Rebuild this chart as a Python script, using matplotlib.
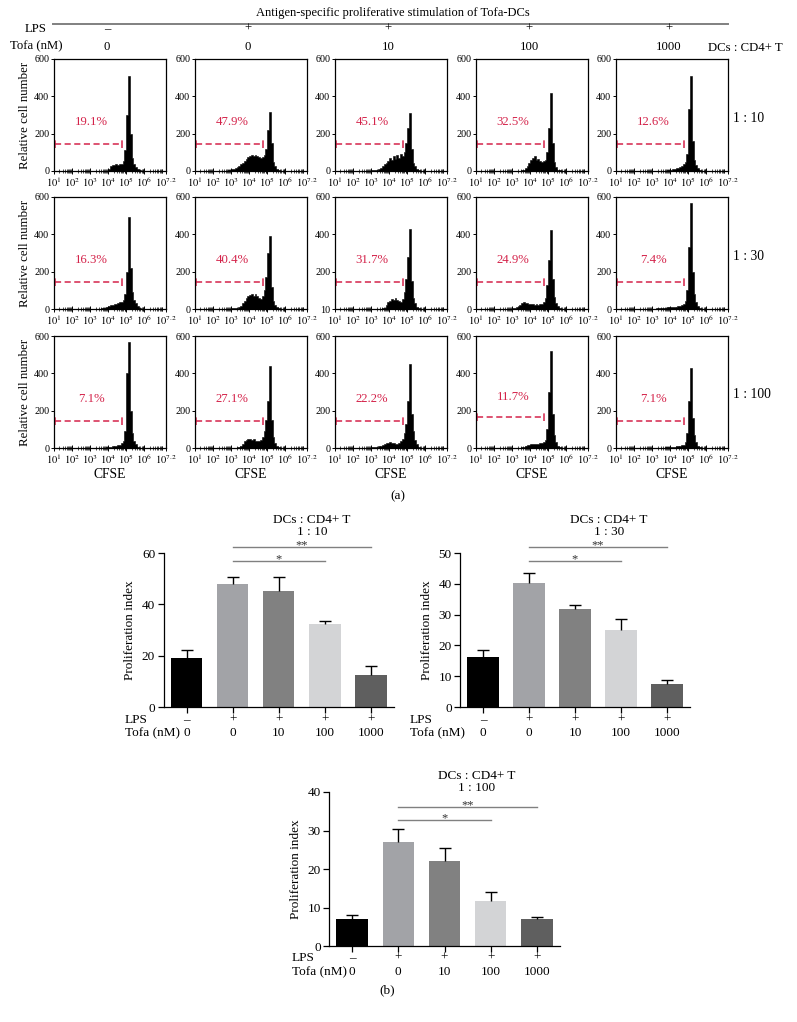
import numpy as np
import matplotlib
matplotlib.use('Agg')
import matplotlib.pyplot as plt
from matplotlib.ticker import FixedLocator, NullFormatter
from matplotlib.lines import Line2D
import matplotlib.transforms as mtrans

plt.rcParams['font.family'] = ['Liberation Serif', 'DejaVu Serif']
plt.rcParams['mathtext.fontset'] = 'stix'
plt.rcParams['axes.linewidth'] = 0.9

# ---------------- data ----------------
lps_labels = ['–', '+', '+', '+', '+']
tofa_labels = ['0', '0', '10', '100', '1000']
ratio_labels = ['1 : 10', '1 : 30', '1 : 100']

pct_1_10 = [19.1, 47.9, 45.1, 32.5, 12.6]
pct_1_30 = [16.3, 40.4, 31.7, 24.9, 7.4]
pct_1_100 = [7.1, 27.1, 22.2, 11.7, 7.1]

err_1_10 = [3.0, 2.6, 5.5, 1.0, 3.5]
err_1_30 = [2.3, 3.2, 1.5, 3.7, 1.5]
err_1_100 = [1.0, 3.3, 3.3, 2.2, 0.5]

gate_1_10 = [143, 143, 143, 143, 143]
gate_1_30 = [143, 143, 143, 143, 143]
gate_1_100 = [143, 143, 143, 165, 143]

# log10(CFSE) bin edges of the histograms, 0.1-decade bins from 10^2.5 to 10^6
hist_log_edges = np.linspace(2.5, 6.0, 36)

hist_1_10 = [
    [0,0,0,0,0, 0,0,0,0,0, 0,0,0,0,0, 10,28,32,33,35, 34,38,40,55,110, 300,510,200,70,35, 20,10,4,0,0],
    [0,0,0,5,8, 10,12,15,20,25, 35,45,55,65,75, 80,85,80,85,80, 75,70,75,85,120, 220,315,150,50,25, 12,6,2,0,0],
    [0,0,0,0,0, 3,5,6,8,10, 15,25,35,45,55, 70,60,80,65,85, 70,90,80,100,150, 230,310,120,45,25, 10,4,0,0,0],
    [0,0,0,0,0, 0,0,0,0,0, 3,8,15,25,45, 60,70,82,60,65, 55,50,55,60,100, 230,420,150,50,20, 8,3,0,0,0],
    [0,0,0,0,0, 0,0,0,0,0, 0,0,0,3,5, 8,10,12,15,18, 22,28,35,50,90, 330,510,160,60,30, 15,6,2,0,0],
]
hist_1_30 = [
    [0,0,0,0,0, 0,0,0,0,0, 0,3,5,8,10, 15,20,22,25,28, 30,35,40,50,80, 200,494,220,90,50, 30,15,6,2,0],
    [0,0,0,0,0, 3,5,6,8,12, 18,30,45,60,70, 75,80,72,78,70, 60,55,70,100,170, 300,390,120,45,20, 10,5,0,0,0],
    [0,0,0,0,0, 0,0,0,0,0, 0,3,8,20,35, 45,55,50,58,50, 45,40,55,90,160, 280,430,150,60,30, 12,4,0,0,0],
    [0,0,0,0,0, 5,8,12,15,22, 30,35,33,30,28, 25,25,24,25,24, 25,28,35,60,130, 260,425,160,65,30, 15,5,0,0,0],
    [0,0,0,0,0, 0,0,3,5,6, 8,8,8,9,10, 10,10,12,12,14, 16,20,28,45,100, 330,570,200,80,35, 15,6,2,0,0],
]
hist_1_100 = [
    [0,0,0,0,0, 0,0,0,0,0, 0,0,0,0,3, 6,8,10,12,12, 14,18,25,40,90, 400,568,200,80,40, 20,8,2,0,0],
    [0,0,0,0,0, 0,0,0,3,5, 10,20,35,45,48, 50,45,48,40,35, 38,45,60,90,150, 250,440,150,60,25, 10,4,0,0,0],
    [0,0,0,0,0, 3,5,6,8,10, 12,15,20,25,28, 30,28,25,22,22, 25,35,50,80,130, 250,450,180,90,45, 20,8,2,0,0],
    [0,0,0,0,0, 0,0,0,0,0, 3,8,12,15,18, 20,20,22,22,24, 25,28,32,45,100, 300,518,180,70,30, 12,5,0,0,0],
    [0,0,0,0,0, 0,0,0,0,0, 0,0,3,5,6, 8,8,8,10,10, 12,14,18,30,80, 250,430,160,70,30, 12,5,2,0,0],
]

hist_yticks = [0, 200, 400, 600]
bar_colors = ['#000000', '#a2a3a7', '#818181', '#d3d4d6', '#5f5f5f']

# ---------------- figure ----------------
W, H = 797, 1022
fig = plt.figure(figsize=(W / 100, H / 100), dpi=100)


def fx(px):
    return px / W


def fy(py):
    return 1 - py / H


def add_ax(l, t, r, b):
    return fig.add_axes([fx(l), fy(b), fx(r) - fx(l), fy(t) - fy(b)])


RED = '#d4234a'
GRAY = '#808080'

# header
fig.text(fx(393), fy(13), 'Antigen-specific proliferative stimulation of Tofa-DCs',
         ha='center', va='center', fontsize=9)
fig.add_artist(Line2D([fx(53), fx(728)], [fy(24), fy(24)], color=GRAY, lw=1.4))
fig.text(fx(25), fy(29), 'LPS', ha='left', va='center', fontsize=9.2)
fig.text(fx(10), fy(46), 'Tofa (nM)', ha='left', va='center', fontsize=9.2)
fig.text(fx(708), fy(48), 'DCs : CD4+ T', ha='left', va='center', fontsize=9.2)

panel_lefts = [54, 195, 335, 476, 616]
panel_w = 112
row_tops = [59, 197, 336]
panel_h = 112

for c in range(5):
    cx = panel_lefts[c] + panel_w / 2 - 3
    fig.text(fx(cx), fy(29), lps_labels[c], ha='center', va='center', fontsize=9.2)
    fig.text(fx(cx), fy(47), tofa_labels[c], ha='center', va='center', fontsize=9.2)

xt = [10.0 ** i for i in range(1, 7)] + [10 ** 7.2]
xtl = [r'$10^{%d}$' % i for i in range(1, 7)] + [r'$10^{7.2}$']
xminor = [j * 10.0 ** i for i in range(1, 7) for j in range(2, 10)] + [1e7]

all_hists = [hist_1_10, hist_1_30, hist_1_100]
all_pcts = [pct_1_10, pct_1_30, pct_1_100]
all_gates = [gate_1_10, gate_1_30, gate_1_100]

for r in range(3):
    for c in range(5):
        l = panel_lefts[c]
        t = row_tops[r]
        ax = add_ax(l, t, l + panel_w, t + panel_h)
        ax.set_xscale('log')
        ax.stairs(all_hists[r][c], 10 ** hist_log_edges, fill=True, facecolor='black',
                  edgecolor='black', lw=0.4)
        ax.set_xlim(10, 10 ** 7.2)
        ax.set_ylim(0, 600)
        ax.set_xticks(xt)
        ax.set_xticklabels(xtl)
        ax.xaxis.set_minor_locator(FixedLocator(xminor))
        ax.xaxis.set_minor_formatter(NullFormatter())
        ax.set_yticks(hist_yticks)
        ylabels = [str(v) for v in hist_yticks]
        if r == 1 and c == 2:
            ylabels[0] = '10'
        ax.set_yticklabels(ylabels)
        ax.tick_params(axis='x', which='major', direction='inout', length=4, width=0.7,
                       labelsize=7.6, pad=1.5)
        ax.tick_params(axis='x', which='minor', direction='inout', length=3, width=0.5)
        ax.tick_params(axis='y', which='major', direction='out', length=2.5, width=0.7,
                       labelsize=7.3, pad=1)
        # gate
        g = all_gates[r][c]
        gx0, gx1 = 10 ** 1.03, 10 ** 4.78
        ax.plot([gx0, gx1], [g, g], color=RED, lw=1.1, dashes=(4, 2.3))
        ax.plot([gx0, gx0], [g - 22, g + 22], color=RED, lw=1.1, dashes=(5, 2))
        ax.plot([gx1, gx1], [g - 22, g + 22], color=RED, lw=1.1, dashes=(5, 2))
        ax.text(10 ** 3.05, 265 + (g - 143) * 0.3, f'{all_pcts[r][c]}%', color=RED,
                ha='center', va='center', fontsize=9.2)
        if c == 0:
            ax.set_ylabel('Relative cell number', fontsize=9.3, labelpad=2)
        if r == 2:
            ax.set_xlabel('CFSE', fontsize=9.8, labelpad=1)
    fig.text(fx(733), fy(row_tops[r] + 59), ratio_labels[r], ha='left', va='center',
             fontsize=9.8)

fig.text(fx(398), fy(496), '(a)', ha='center', va='center', fontsize=9.5)

# ---------------- bar charts ----------------
charts = [
    dict(vals=pct_1_10, errs=err_1_10, box=(163.5, 553, 394, 707), ymax=60,
         yticks=[0, 20, 40, 60], title_x=312, title_y=520, sig_y=(547, 561),
         row_y=(720, 733), lab_x=125, ratio=ratio_labels[0]),
    dict(vals=pct_1_30, errs=err_1_30, box=(460, 553, 690, 707), ymax=50,
         yticks=[0, 10, 20, 30, 40, 50], title_x=609, title_y=520, sig_y=(547, 561),
         row_y=(720, 733), lab_x=410, ratio=ratio_labels[1]),
    dict(vals=pct_1_100, errs=err_1_100, box=(329, 792, 560, 946), ymax=40,
         yticks=[0, 10, 20, 30, 40], title_x=477, title_y=776, sig_y=(807, 820),
         row_y=(958, 972), lab_x=292, ratio=ratio_labels[2]),
]

xpos = np.arange(5)
for ch in charts:
    l, t, rr, b = ch['box']
    ax = add_ax(l, t, rr, b)
    ax.bar(xpos, ch['vals'], width=0.68, color=bar_colors, zorder=2)
    eb = ax.errorbar(xpos, ch['vals'], yerr=[np.zeros(5), ch['errs']], fmt='none',
                     ecolor='black', elinewidth=1.0, capsize=4.5, capthick=1.0, zorder=3)
    # only the upper caps are shown
    eb[1][0].set_visible(False)
    ax.set_xlim(-0.5, 4.5)
    ax.set_ylim(0, ch['ymax'])
    ax.set_yticks(ch['yticks'])
    ax.set_xticks(xpos)
    ax.set_xticklabels([])
    ax.spines['top'].set_visible(False)
    ax.spines['right'].set_visible(False)
    ax.tick_params(axis='both', direction='out', length=4, width=0.9, labelsize=9.5, pad=2)
    ax.set_ylabel('Proliferation index', fontsize=9.5, labelpad=4)

    tr = mtrans.blended_transform_factory(ax.transData, fig.transFigure)
    for i in range(5):
        ax.text(xpos[i], fy(ch['row_y'][0]), lps_labels[i], transform=tr,
                ha='center', va='center', fontsize=9.5)
        ax.text(xpos[i], fy(ch['row_y'][1]), tofa_labels[i], transform=tr,
                ha='center', va='center', fontsize=9.5)
    fig.text(fx(ch['lab_x']), fy(ch['row_y'][0]), 'LPS', ha='left', va='center', fontsize=9.5)
    fig.text(fx(ch['lab_x']), fy(ch['row_y'][1]), 'Tofa (nM)', ha='left', va='center',
             fontsize=9.5)

    fig.text(fx(ch['title_x']), fy(ch['title_y']), 'DCs : CD4+ T', ha='center', va='center',
             fontsize=9.5)
    fig.text(fx(ch['title_x']), fy(ch['title_y'] + 12), ch['ratio'], ha='center',
             va='center', fontsize=9.5)

    y_hi, y_lo = ch['sig_y']
    ax.plot([xpos[1], xpos[4]], [fy(y_hi), fy(y_hi)], transform=tr, color=GRAY, lw=1.0,
            clip_on=False)
    ax.plot([xpos[1], xpos[3]], [fy(y_lo), fy(y_lo)], transform=tr, color=GRAY, lw=1.0,
            clip_on=False)
    ax.text((xpos[1] + xpos[4]) / 2, fy(y_hi + 1.5), '**', transform=tr, ha='center',
            va='baseline', fontsize=9, color='#333333')
    ax.text((xpos[1] + xpos[3]) / 2, fy(y_lo + 1.5), '*', transform=tr, ha='center',
            va='baseline', fontsize=9, color='#333333')

fig.text(fx(387), fy(990), '(b)', ha='center', va='center', fontsize=9.5)

fig.savefig('out.png', dpi=100)
